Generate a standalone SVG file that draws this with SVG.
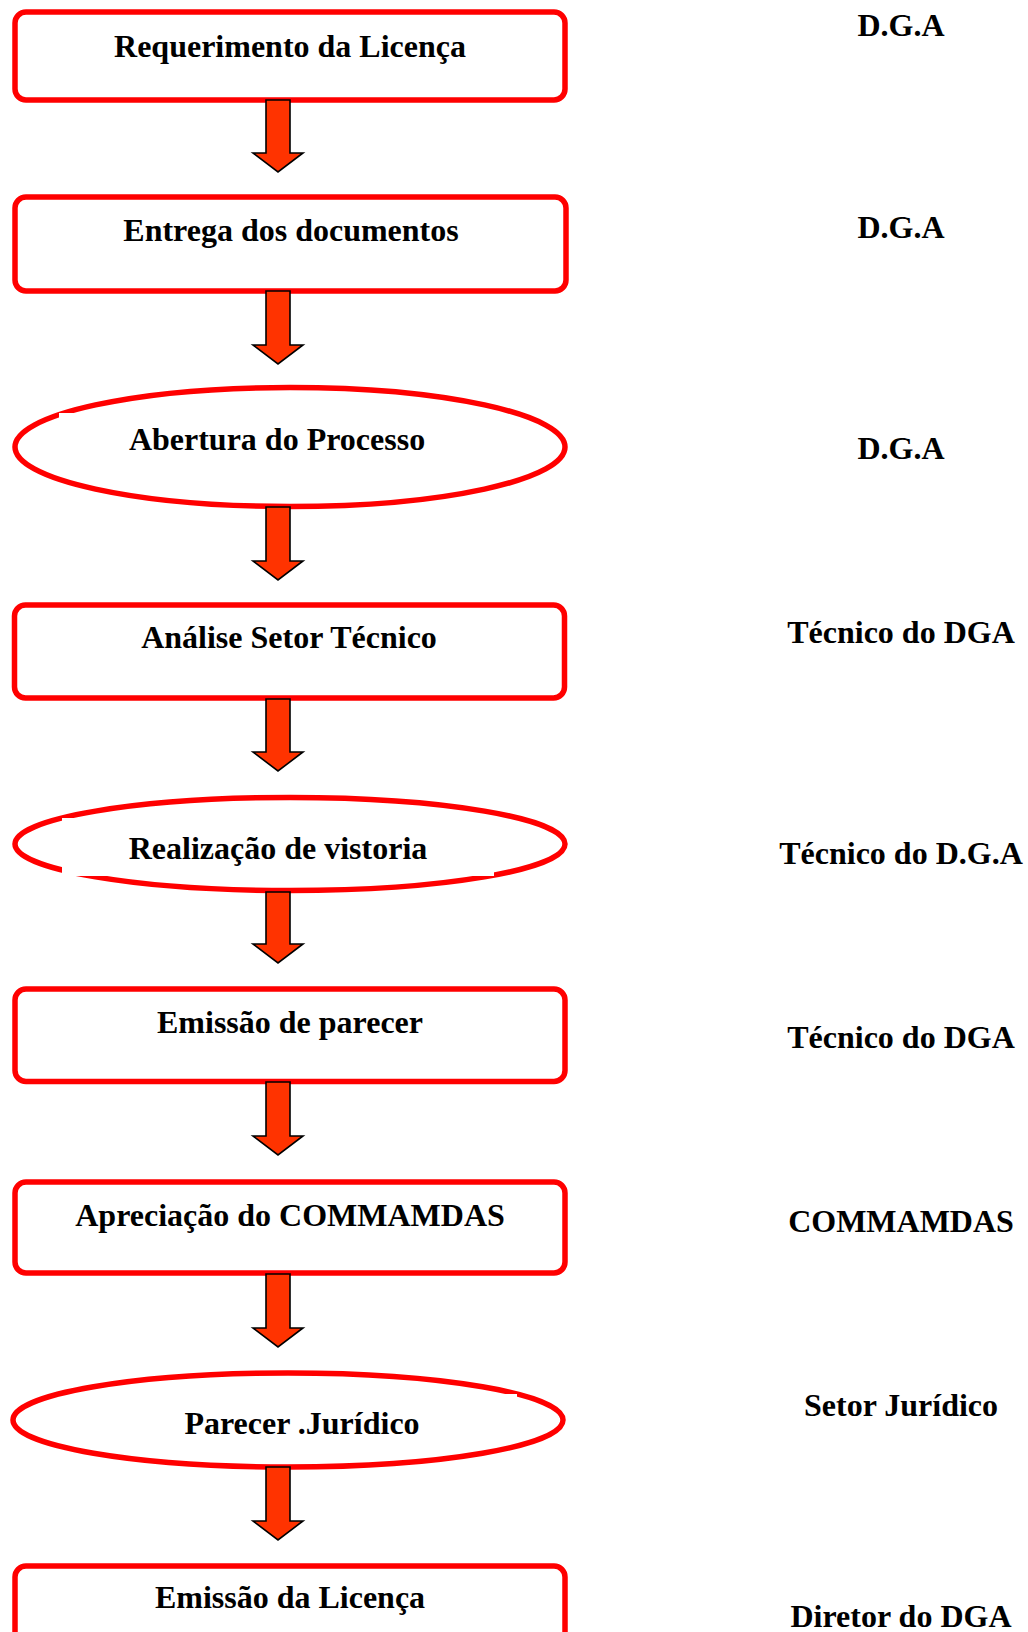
<svg xmlns="http://www.w3.org/2000/svg" width="1028" height="1632" viewBox="0 0 1028 1632">
<style>
.box{fill:#fff;stroke:#ff0000;stroke-width:5.5}
.gap{fill:#fff;stroke:none}
.t{font-family:"Liberation Serif","Times New Roman",serif;font-weight:bold;font-size:32px;fill:#000;text-anchor:middle}
.arr{fill:#ff3300;stroke:#000;stroke-width:1.6;stroke-linejoin:miter}
</style>
<rect width="1028" height="1632" fill="#fff"/>
<g id="n1"><rect class="box" x="15" y="12" width="550" height="88" rx="11"/><text class="t" x="290" y="57">Requerimento da Licença</text></g>
<g id="n2"><rect class="box" x="15" y="197" width="551" height="94" rx="11"/><text class="t" x="291" y="241">Entrega dos documentos</text></g>
<g id="n3"><ellipse class="box" cx="290" cy="447" rx="275" ry="59.5"/><rect class="gap" x="59" y="413" width="420" height="58"/><text class="t" x="277" y="450">Abertura do Processo</text></g>
<g id="n4"><rect class="box" x="14.5" y="605" width="550" height="93" rx="11"/><text class="t" x="289" y="648">Análise Setor Técnico</text></g>
<g id="n5"><ellipse class="box" cx="290" cy="844" rx="275" ry="46.5"/><rect class="gap" x="62" y="818" width="432" height="58"/><text class="t" x="278" y="859">Realização de vistoria</text></g>
<g id="n6"><rect class="box" x="15" y="989" width="550" height="92.5" rx="11"/><text class="t" x="290" y="1033">Emissão de parecer</text></g>
<g id="n7"><rect class="box" x="15" y="1182" width="550" height="91" rx="11"/><text class="t" x="290" y="1226">Apreciação do COMMAMDAS</text></g>
<g id="n8"><ellipse class="box" cx="288" cy="1420" rx="275" ry="47"/><rect class="gap" x="100" y="1394" width="417" height="44"/><text class="t" x="302" y="1434">Parecer .Jurídico</text></g>
<g id="n9"><rect class="box" x="15" y="1566" width="550" height="100" rx="11"/><text class="t" x="290" y="1608">Emissão da Licença</text></g>
<g id="labels">
<text class="t" x="901" y="36">D.G.A</text>
<text class="t" x="901" y="238">D.G.A</text>
<text class="t" x="901" y="459">D.G.A</text>
<text class="t" x="901" y="643">Técnico do DGA</text>
<text class="t" x="901" y="864">Técnico do D.G.A</text>
<text class="t" x="901" y="1048">Técnico do DGA</text>
<text class="t" x="901" y="1232">COMMAMDAS</text>
<text class="t" x="901" y="1416">Setor Jurídico</text>
<text class="t" x="901" y="1627">Diretor do DGA</text>
</g>
<g id="connectors">
<path class="arr" d="M266,100 H290 V153 H303 L278,172 L253,153 H266 Z"/>
<path class="arr" d="M266,291 H290 V345 H303 L278,364 L253,345 H266 Z"/>
<path class="arr" d="M266,507 H290 V561 H303 L278,580 L253,561 H266 Z"/>
<path class="arr" d="M266,699 H290 V752 H303 L278,771 L253,752 H266 Z"/>
<path class="arr" d="M266,892 H290 V944 H303 L278,963 L253,944 H266 Z"/>
<path class="arr" d="M266,1082 H290 V1136 H303 L278,1155 L253,1136 H266 Z"/>
<path class="arr" d="M266,1274 H290 V1328 H303 L278,1347 L253,1328 H266 Z"/>
<path class="arr" d="M266,1467 H290 V1521 H303 L278,1540 L253,1521 H266 Z"/>
</g>
</svg>
